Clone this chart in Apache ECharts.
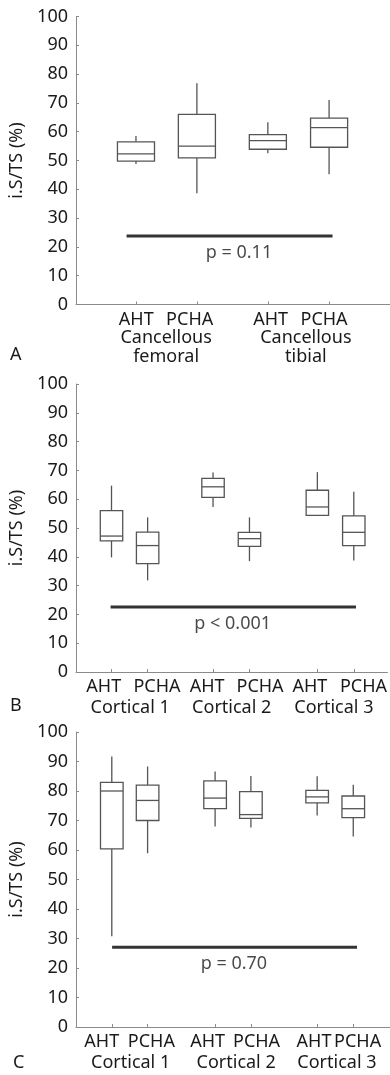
<!DOCTYPE html>
<html>
<head>
<meta charset="utf-8">
<script src="https://cdn.jsdelivr.net/npm/echarts@6.0.0/dist/echarts.min.js"></script>
<style>
  html, body { margin: 0; padding: 0; background: #fff; }
  #chart { width: 390px; height: 1075px; }
</style>
</head>
<body>
<div id="chart"></div>
<script>
"use strict";
// box rows: [low whisker, Q1, median, Q3, high whisker]
const groupNames = ["AHT", "PCHA"];
const groupsA = ["Cancellous\nfemoral", "Cancellous\ntibial"];
const groupsBC = ["Cortical 1", "Cortical 2", "Cortical 3"];
const boxesA = [
    [48.8, 49.8, 52.3, 56.5, 58.5],
    [38.6, 50.9, 55.0, 66.0, 76.8],
    [52.5, 53.9, 56.9, 59.0, 63.3],
    [45.2, 54.6, 61.4, 64.7, 71.0],
];
const boxesB = [
    [39.8, 45.5, 47.2, 56.0, 64.7],
    [31.8, 37.6, 43.9, 48.6, 53.7],
    [57.3, 60.6, 64.3, 67.2, 69.3],
    [38.5, 43.6, 46.3, 48.5, 53.7],
    [54.2, 54.4, 57.3, 63.1, 69.4],
    [38.7, 43.9, 48.5, 54.2, 62.6],
];
const boxesC = [
    [30.8, 60.4, 80.0, 82.9, 91.7],
    [58.9, 70.0, 76.8, 82.0, 88.3],
    [68.0, 74.0, 77.6, 83.4, 86.6],
    [67.6, 70.7, 72.0, 79.8, 85.1],
    [71.7, 76.0, 78.0, 80.2, 85.0],
    [64.6, 71.0, 74.0, 78.3, 82.1],
];
const pLabels = ["p = 0.11", "p < 0.001", "p = 0.70"];
const pLevels = [23.8, 22.6, 27.0];
const yTicks = [0, 100, 10];
const yName = "i.S/TS (%)";
const panelLetters = ["A", "B", "C"];

// layout per panel (x axis runs 0..10 across the plot)
const panels = [
    {
        top: 16.5, height: 288, boxes: boxesA, groups: groupsA, boxW: 1.18,
        ticks: [1.91, 3.85, 6.11, 8.06],
        labelPos: [1.92, 3.62, 6.2, 7.9],
        groupPos: [2.87, 7.32],
        pSpan: [1.61, 8.17], pMid: 5.19, letterY: 357,
    },
    {
        top: 384, height: 288, boxes: boxesB, groups: groupsBC, boxW: 0.72,
        ticks: [1.14, 2.30, 4.40, 5.57, 7.75, 8.92],
        labelPos: [0.89, 2.60, 4.21, 5.91, 7.51, 9.23],
        groupPos: [1.74, 5.0, 8.28],
        pSpan: [1.11, 8.99], pMid: 5.03, letterY: 708,
    },
    {
        top: 732, height: 295, boxes: boxesC, groups: groupsBC, boxW: 0.72,
        ticks: [1.14, 2.28, 4.43, 5.57, 7.68, 8.83],
        labelPos: [0.82, 2.40, 4.19, 5.75, 7.58, 8.97],
        groupPos: [1.74, 5.10, 8.31],
        pSpan: [1.15, 8.95], pMid: 5.03, letterY: 1065,
    },
];

const font = "Noto Sans";
const fs = 18;
const axisGrey = "#8a8a8a";
const textColor = "#1a1a1a";

const pick = (names, pos) => (v) => {
    const i = pos.findIndex((p) => Math.abs(p - v) < 1e-6);
    return i < 0 ? "" : names[i];
};

const makeBox = (boxW) => (params, api) => {
    const x = api.value(0);
    const w = api.size([boxW, 0])[0];
    const [cx, yLow] = api.coord([x, api.value(1)]);
    const yQ1 = api.coord([x, api.value(2)])[1];
    const yMed = api.coord([x, api.value(3)])[1];
    const yQ3 = api.coord([x, api.value(4)])[1];
    const yHigh = api.coord([x, api.value(5)])[1];
    const style = { stroke: "#555", lineWidth: 1.3, fill: null };
    return {
        type: "group",
        children: [
            { type: "line", shape: { x1: cx, y1: yHigh, x2: cx, y2: yQ3 }, style },
            { type: "line", shape: { x1: cx, y1: yQ1, x2: cx, y2: yLow }, style },
            { type: "rect", shape: { x: cx - w / 2, y: yQ3, width: w, height: yQ1 - yQ3 }, style: { ...style, fill: "#fff" } },
            { type: "line", shape: { x1: cx - w / 2, y1: yMed, x2: cx + w / 2, y2: yMed }, style },
        ],
    };
};

const grid = [], xAxis = [], yAxis = [], series = [], graphic = [];
panels.forEach((pn, i) => {
    grid.push({ left: 76, right: 0, top: pn.top, height: pn.height });
    const tickNames = pn.ticks.map((_, k) => groupNames[k % 2]);
    xAxis.push({
        type: "value", gridIndex: i, min: 0, max: 10,
        splitLine: { show: false },
        axisLine: { show: true, onZero: false, lineStyle: { color: axisGrey, width: 1 } },
        axisTick: { show: true, inside: true, length: 3, customValues: pn.ticks, lineStyle: { color: axisGrey } },
        axisLabel: {
            customValues: pn.labelPos, formatter: pick(tickNames, pn.labelPos),
            margin: 6, color: textColor, fontFamily: font, fontSize: fs,
        },
    });
    xAxis.push({
        type: "value", gridIndex: i, min: 0, max: 10, position: "bottom",
        splitLine: { show: false }, axisLine: { show: false }, axisTick: { show: false },
        axisLabel: {
            customValues: pn.groupPos, formatter: pick(pn.groups, pn.groupPos),
            margin: i === 0 ? 24 : 26, lineHeight: 19, color: textColor, fontFamily: font, fontSize: fs,
        },
    });
    yAxis.push({
        type: "value", gridIndex: i, min: yTicks[0], max: yTicks[1], interval: yTicks[2],
        name: yName, nameLocation: "middle", nameRotate: 90, nameGap: 48,
        nameTextStyle: { color: textColor, fontFamily: font, fontSize: fs },
        splitLine: { show: false },
        axisLine: { show: true, lineStyle: { color: axisGrey, width: 1 } },
        axisTick: { show: true, inside: true, length: 3, lineStyle: { color: axisGrey } },
        axisLabel: { margin: 8, color: textColor, fontFamily: font, fontSize: fs },
    });
    series.push({
        type: "custom", xAxisIndex: i * 2, yAxisIndex: i,
        renderItem: makeBox(pn.boxW),
        encode: { x: 0, y: [1, 2, 3, 4, 5] },
        data: pn.boxes.map((b, k) => [pn.ticks[k], ...b]),
        silent: true,
    });
    series.push({
        type: "line", xAxisIndex: i * 2, yAxisIndex: i,
        symbol: "none", silent: true,
        lineStyle: { color: "#333", width: 3 },
        data: [[pn.pSpan[0], pLevels[i]], [pn.pSpan[1], pLevels[i]]],
    });
    series.push({
        type: "scatter", xAxisIndex: i * 2, yAxisIndex: i,
        symbolSize: 0, silent: true,
        label: {
            show: true, position: "bottom", distance: 8,
            formatter: pLabels[i], color: textColor, fontFamily: font, fontSize: fs,
        },
        data: [[pn.pMid, pLevels[i]]],
    });
    graphic.push({
        type: "text", left: i === 2 ? 13 : 10, top: pn.letterY - 11,
        style: { text: panelLetters[i], fill: textColor, font: `${fs}px "${font}"` },
    });
});

const chart = echarts.init(document.getElementById("chart"), null, { renderer: "canvas" });
chart.setOption({
    animation: false,
    backgroundColor: "#fff",
    grid, xAxis, yAxis, series, graphic,
});
</script>
</body>
</html>
